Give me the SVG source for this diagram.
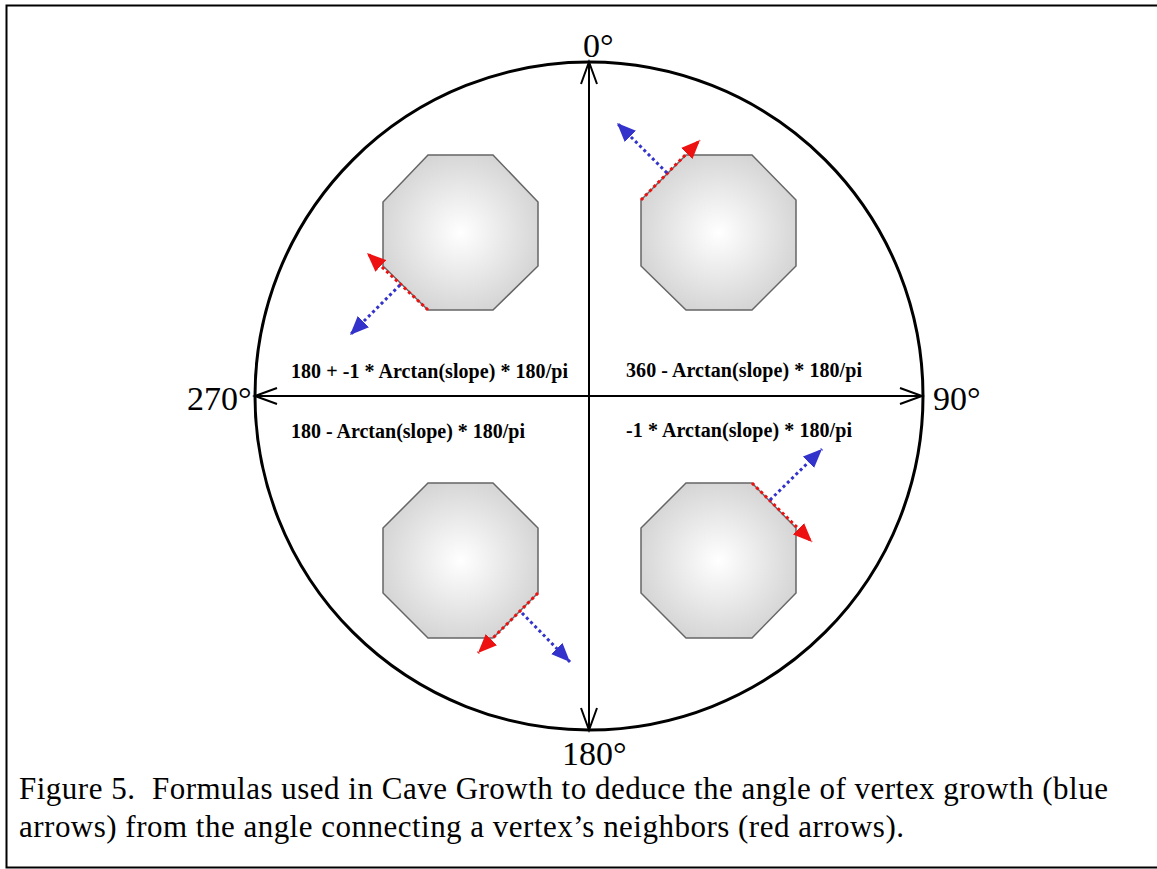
<svg xmlns="http://www.w3.org/2000/svg" width="1157" height="869" viewBox="0 0 1157 869">
<style>
.axis{stroke:#000;stroke-width:2;fill:none}
.oct{fill:url(#g);stroke:#666;stroke-width:1.5}
.red{stroke:#ee1111;stroke-width:3;stroke-dasharray:3 3;fill:none}
.blue{stroke:#3333cc;stroke-width:3;stroke-dasharray:3 3;fill:none}
.deg{font-family:"Liberation Serif","Times New Roman",serif;font-size:34px;fill:#000}
.f{font-family:"Liberation Serif","Times New Roman",serif;font-size:20px;font-weight:bold;fill:#000}
.cap{font-family:"Liberation Serif","Times New Roman",serif;font-size:31px;fill:#000;white-space:pre}
</style>
<defs>
<radialGradient id="g" cx="0.5" cy="0.5" r="0.6">
<stop offset="0" stop-color="#ffffff"/>
<stop offset="1" stop-color="#cfcfcf"/>
</radialGradient>
<marker id="open" markerUnits="userSpaceOnUse" markerWidth="26" markerHeight="20" viewBox="0 0 26 20" refX="23" refY="10" orient="auto-start-reverse">
<path d="M1,2 L23,10 L1,18" fill="none" stroke="#000" stroke-width="2"/>
</marker>
<marker id="ra" markerUnits="userSpaceOnUse" markerWidth="20" markerHeight="16" viewBox="0 0 20 16" refX="19" refY="8" orient="auto">
<path d="M0,0 L19,8 L0,16 z" fill="#ee1111"/>
</marker>
<marker id="ba" markerUnits="userSpaceOnUse" markerWidth="20" markerHeight="16" viewBox="0 0 20 16" refX="19" refY="8" orient="auto">
<path d="M0,0 L19,8 L0,16 z" fill="#3333cc"/>
</marker>
</defs>
<rect x="0" y="0" width="1157" height="869" fill="#fff"/>
<rect id="frame" x="6.5" y="5.5" width="1160" height="862" fill="none" stroke="#000" stroke-width="2"/>
<g id="compass">
<circle cx="589" cy="396" r="334" fill="none" stroke="#000" stroke-width="3"/>
</g>
<g id="oct-tl"><polygon class="oct" points="428,155 493,155 538,202 538,266 493,310 428,310 383,266 383,202"/></g>
<g id="oct-tr"><polygon class="oct" points="686,155 752,155 796,200 796,266 752,310 686,310 641,266 641,200"/></g>
<g id="oct-bl"><polygon class="oct" points="428,483 493,483 538,528 538,593 493,638 428,638 383,593 383,528"/></g>
<g id="oct-br"><polygon class="oct" points="686,483 752,483 796,528 796,593 752,638 686,638 641,593 641,528"/></g>
<g id="connectors">
<line class="axis" x1="255" y1="396" x2="922" y2="396" marker-start="url(#open)" marker-end="url(#open)"/>
<line class="axis" x1="589" y1="62" x2="589" y2="730" marker-start="url(#open)" marker-end="url(#open)"/>
<line class="red" x1="641" y1="200" x2="700" y2="140" marker-end="url(#ra)"/>
<line class="blue" x1="667" y1="173" x2="617" y2="123" marker-end="url(#ba)"/>
<line class="red" x1="428" y1="310" x2="367" y2="253" marker-end="url(#ra)"/>
<line class="blue" x1="400" y1="285" x2="350" y2="335" marker-end="url(#ba)"/>
<line class="red" x1="538" y1="593" x2="478" y2="653" marker-end="url(#ra)"/>
<line class="blue" x1="522" y1="613" x2="570" y2="662" marker-end="url(#ba)"/>
<line class="red" x1="752" y1="483" x2="812" y2="542" marker-end="url(#ra)"/>
<line class="blue" x1="770" y1="500" x2="822" y2="449" marker-end="url(#ba)"/>
</g>
<g id="labels">
<text class="deg" x="583" y="57">0°</text>
<text class="deg" x="187" y="410">270°</text>
<text class="deg" x="933" y="410">90°</text>
<text class="deg" x="562" y="765">180°</text>
<text class="f" x="291" y="378" textLength="277" lengthAdjust="spacing">180 + -1 * Arctan(slope) * 180/pi</text>
<text class="f" x="291" y="438" textLength="234" lengthAdjust="spacing">180 - Arctan(slope) * 180/pi</text>
<text class="f" x="626" y="377" textLength="236" lengthAdjust="spacing">360 - Arctan(slope) * 180/pi</text>
<text class="f" x="626" y="437" textLength="226" lengthAdjust="spacing">-1 * Arctan(slope) * 180/pi</text>
</g>
<g id="caption">
<text class="cap" x="19" y="799" xml:space="preserve" textLength="1089" lengthAdjust="spacing">Figure 5.  Formulas used in Cave Growth to deduce the angle of vertex growth (blue</text>
<text class="cap" x="19" y="837" textLength="885" lengthAdjust="spacing">arrows) from the angle connecting a vertex’s neighbors (red arrows).</text>
</g>
</svg>
